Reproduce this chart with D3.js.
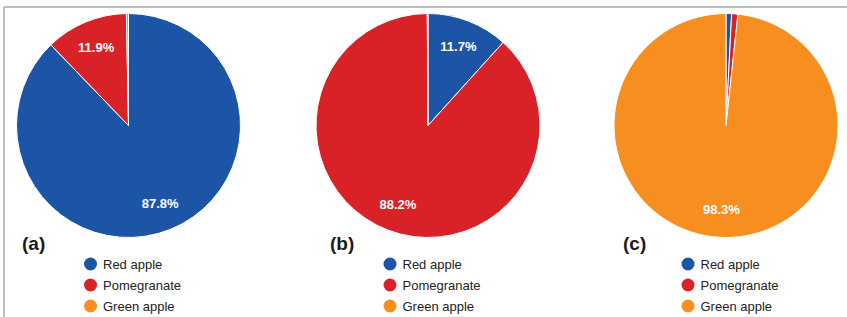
<!DOCTYPE html>
<html>
<head>
<meta charset="utf-8">
<script src="https://cdn.jsdelivr.net/npm/d3@7"></script>
<style>
  html, body { margin: 0; padding: 0; background: #fff; }
  svg { display: block; font-family: "Liberation Sans", Arial, sans-serif; }
</style>
</head>
<body>
<svg id="chart" width="847" height="317"></svg>
<script>
// ---- data ----
const categories = ["Red apple", "Pomegranate", "Green apple"];
const panelNames = ["(a)", "(b)", "(c)"];
const seriesA = [87.8, 11.9, 0.3];
const seriesB = [11.7, 88.2, 0.1];
const seriesC = [0.8, 0.9, 98.3];
const colors = ["#1c55a6", "#d92128", "#f68f1f"];

// ---- layout ----
const W = 847, H = 317;
const panels = [
  { name: panelNames[0], values: seriesA, cx: 128.5, labelX: 22 },
  { name: panelNames[1], values: seriesB, cx: 428, labelX: 330 },
  { name: panelNames[2], values: seriesC, cx: 726, labelX: 623 }
];
const cy = 125.5, R = 112;

const svg = d3.select("#chart");

// frame
svg.append("line").attr("x1", 4).attr("x2", W).attr("y1", 7).attr("y2", 7)
  .attr("stroke", "#a6a6a6").attr("stroke-width", 1.5);
svg.append("line").attr("x1", 4).attr("x2", 4).attr("y1", 7).attr("y2", H)
  .attr("stroke", "#a6a6a6").attr("stroke-width", 1.5);

const color = d3.scaleOrdinal().domain(categories).range(colors);
const pie = d3.pie().sort(null).value(d => d.v);
const arc = d3.arc().innerRadius(0).outerRadius(R);
const labelArc = d3.arc().innerRadius(R * 0.755).outerRadius(R * 0.755);

panels.forEach(p => {
  const data = categories.map((c, i) => ({ c, v: p.values[i] }));
  const arcs = pie(data);
  const g = svg.append("g").attr("transform", `translate(${p.cx},${cy})`);
  g.selectAll("path").data(arcs).join("path")
    .attr("d", arc)
    .attr("fill", d => color(d.data.c))
    .attr("stroke", "#fff")
    .attr("stroke-width", 1);
  g.selectAll("text.pct").data(arcs.filter(d => d.data.v >= 5)).join("text")
    .attr("class", "pct")
    .attr("transform", d => `translate(${labelArc.centroid(d)})`)
    .attr("text-anchor", "middle")
    .attr("dominant-baseline", "central")
    .attr("fill", "#fff")
    .attr("font-size", 13)
    .attr("font-weight", "bold")
    .text(d => d3.format(".1f")(d.data.v) + "%");

  // panel label
  svg.append("text")
    .attr("x", p.labelX).attr("y", 250)
    .attr("font-size", 19).attr("font-weight", "bold").attr("fill", "#1a1a1a")
    .text(p.name);

  // legend
  const lg = svg.append("g").attr("transform", `translate(${p.cx - 38},264)`);
  const items = lg.selectAll("g").data(categories).join("g")
    .attr("transform", (d, i) => `translate(0,${i * 21})`);
  items.append("circle").attr("r", 6.5).attr("fill", d => color(d));
  items.append("text").attr("x", 12.5).attr("dominant-baseline", "central")
    .attr("font-size", 13).attr("fill", "#222").text(d => d);
});
</script>
</body>
</html>
